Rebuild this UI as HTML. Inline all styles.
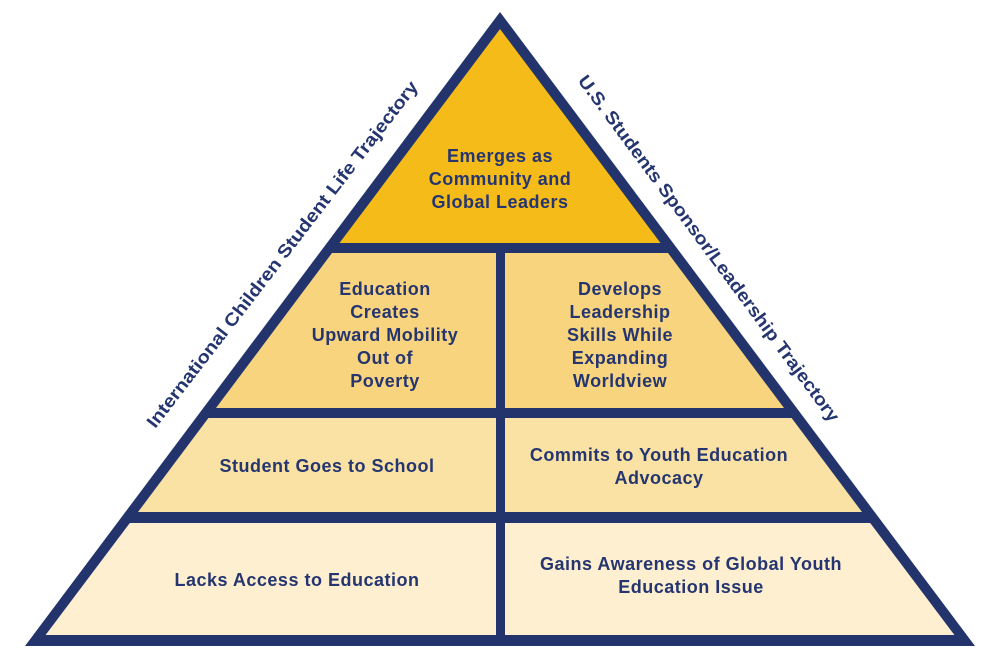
<!DOCTYPE html>
<html><head><meta charset="utf-8"><style>
html,body{margin:0;padding:0;background:#fff;width:1000px;height:659px;overflow:hidden}
svg text{font-family:"Liberation Sans",sans-serif;font-weight:bold;fill:#253570;text-anchor:middle}
</style></head><body>
<svg width="1000" height="659" viewBox="0 0 1000 659" xmlns="http://www.w3.org/2000/svg">
<polygon points="500,12 25,646 975,646" fill="#22346b"/>
<polygon points="500,29 339.5,243 660.5,243" fill="#f5bc19"/>
<polygon points="332,253 496,253 496,408 216,408" fill="#f8d47e"/>
<polygon points="505,253 668,253 784,408 505,408" fill="#f8d47e"/>
<polygon points="208.4,418 496,418 496,512 138,512" fill="#fae2a4"/>
<polygon points="505,418 791.6,418 862,512 505,512" fill="#fae2a4"/>
<polygon points="129.8,523 496,523 496,635 45.6,635" fill="#fdefd0"/>
<polygon points="505,523 870.2,523 954.4,635 505,635" fill="#fdefd0"/>
<g font-size="18" letter-spacing="0.5">
<text x="500" y="162">Emerges as</text>
<text x="500" y="185">Community and</text>
<text x="500" y="208">Global Leaders</text>
<text x="385" y="295">Education</text>
<text x="385" y="318">Creates</text>
<text x="385" y="341">Upward Mobility</text>
<text x="385" y="364">Out of</text>
<text x="385" y="387">Poverty</text>
<text x="620" y="295">Develops</text>
<text x="620" y="318">Leadership</text>
<text x="620" y="341">Skills While</text>
<text x="620" y="364">Expanding</text>
<text x="620" y="387">Worldview</text>
<text x="327" y="472">Student Goes to School</text>
<text x="659" y="461">Commits to Youth Education</text>
<text x="659" y="484">Advocacy</text>
<text x="297" y="586">Lacks Access to Education</text>
<text x="691" y="570">Gains Awareness of Global Youth</text>
<text x="691" y="593">Education Issue</text>
</g>
<text font-size="18" transform="translate(287,258) rotate(-52.4)" textLength="432" lengthAdjust="spacingAndGlyphs">International Children Student Life Trajectory</text>
<text font-size="18" transform="translate(704,252) rotate(53.5)" textLength="426" lengthAdjust="spacingAndGlyphs">U.S. Students Sponsor/Leadership Trajectory</text>
</svg>
</body></html>
